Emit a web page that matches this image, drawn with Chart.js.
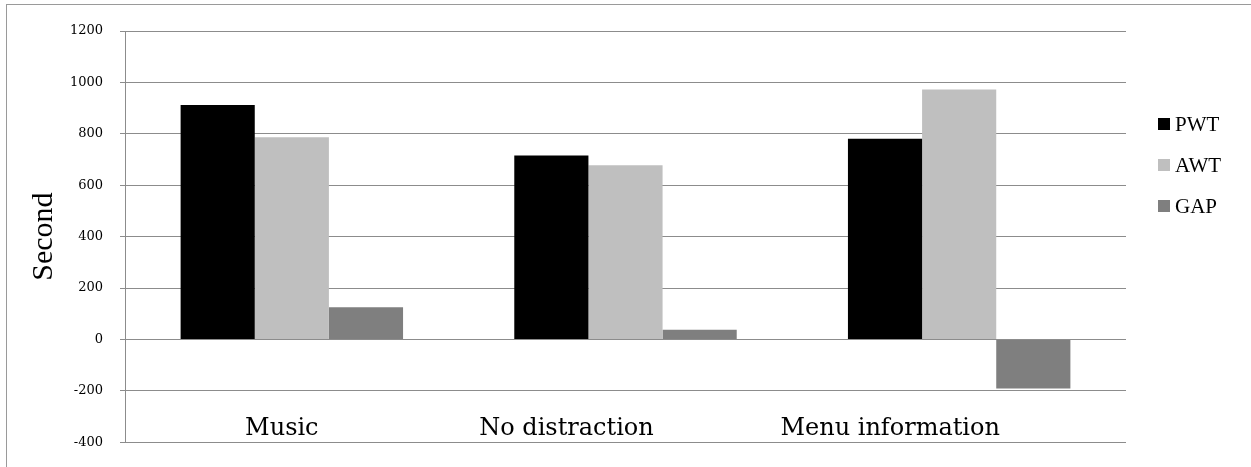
<!DOCTYPE html>
<html>
<head>
<meta charset="utf-8">
<script src="https://cdn.jsdelivr.net/npm/chart.js@4/dist/chart.umd.min.js"></script>
<style>
  html, body { margin: 0; padding: 0; background: #ffffff; }
  #wrap { width: 1251px; height: 467px; position: relative; }
</style>
</head>
<body>
<div id="wrap"><canvas id="c" width="1251" height="467"></canvas></div>
<script>
// Waiting times per condition, in seconds
const categories = ['Music', 'No distraction', 'Menu information'];
const pwt = [912, 716, 781];
const awt = [787, 678, 972];
const gap = [125, 38, -191];
const yTicks = [-400, -200, 0, 200, 400, 600, 800, 1000, 1200];
const seriesNames = ['PWT', 'AWT', 'GAP'];
const seriesColors = ['#000000', '#bfbfbf', '#7f7f7f'];

const GRID = '#8c8c8c';

// Light frame around the whole figure
const framePlugin = {
  id: 'frame',
  beforeDraw(chart) {
    const ctx = chart.ctx;
    ctx.save();
    ctx.fillStyle = '#ffffff';
    ctx.fillRect(0, 0, chart.width, chart.height);
    ctx.strokeStyle = '#9a9a9a';
    ctx.lineWidth = 1;
    ctx.strokeRect(6.5, 4.5, chart.width + 10, chart.height + 10);
    ctx.restore();
  }
};

// Category names written inside the plot, near its lower edge
const categoryLabelPlugin = {
  id: 'categoryLabels',
  afterDatasetsDraw(chart, args, opts) {
    const ctx = chart.ctx;
    const xs = chart.scales.x;
    ctx.save();
    ctx.font = opts.font;
    ctx.fillStyle = '#000000';
    ctx.textAlign = 'center';
    ctx.textBaseline = 'alphabetic';
    chart.data.labels.forEach((lab, i) => {
      const x = xs.getPixelForValue(i) + (opts.shift[i] || 0);
      ctx.fillText(lab, x, opts.baseline);
    });
    ctx.restore();
  }
};

// Legend at the right: square swatch followed by the series name
const sideLegendPlugin = {
  id: 'sideLegend',
  afterDraw(chart, args, opts) {
    const ctx = chart.ctx;
    ctx.save();
    ctx.font = opts.font;
    ctx.textAlign = 'left';
    ctx.textBaseline = 'middle';
    chart.data.datasets.forEach((ds, i) => {
      const cy = opts.top + i * opts.step;
      ctx.fillStyle = ds.backgroundColor;
      ctx.fillRect(opts.left, cy - opts.box / 2, opts.box, opts.box);
      ctx.fillStyle = '#000000';
      ctx.fillText(ds.label, opts.left + opts.box + 5, cy + 1);
    });
    ctx.restore();
  }
};

const datasets = [pwt, awt, gap].map((values, i) => ({
  label: seriesNames[i],
  data: values,
  backgroundColor: seriesColors[i],
  borderWidth: 0,
  categoryPercentage: 2 / 3,
  barPercentage: 1.0
}));

new Chart(document.getElementById('c'), {
  type: 'bar',
  data: { labels: categories, datasets: datasets },
  options: {
    responsive: false,
    devicePixelRatio: 1,
    animation: false,
    layout: { padding: { top: 31, right: 125, bottom: 23, left: 0 } },
    plugins: {
      legend: { display: false },
      tooltip: { enabled: false },
      categoryLabels: { font: '24px "DejaVu Serif"', baseline: 435, shift: [-10, -59, -69] },
      sideLegend: { font: '21px "Liberation Serif"', left: 1158, top: 124, step: 41, box: 12 }
    },
    scales: {
      x: {
        display: false,
        grid: { display: false }
      },
      y: {
        min: -400,
        max: 1200,
        afterBuildTicks(scale) {
          scale.ticks = yTicks.map(v => ({ value: v }));
        },
        afterFit(scale) { scale.width = 125; },
        ticks: {
          callback: v => String(v),
          color: '#000000',
          font: { family: '"DejaVu Serif"', size: 13 },
          padding: 17
        },
        grid: {
          color: GRID,
          lineWidth: 1,
          tickLength: 5,
          drawTicks: true
        },
        border: { color: GRID, width: 1 },
        title: {
          display: true,
          text: 'Second',
          color: '#000000',
          font: { family: '"Liberation Serif"', size: 30, lineHeight: 1.2 },
          padding: { top: 26, bottom: 0 }
        }
      }
    }
  },
  plugins: [framePlugin, categoryLabelPlugin, sideLegendPlugin]
});
</script>
</body>
</html>
